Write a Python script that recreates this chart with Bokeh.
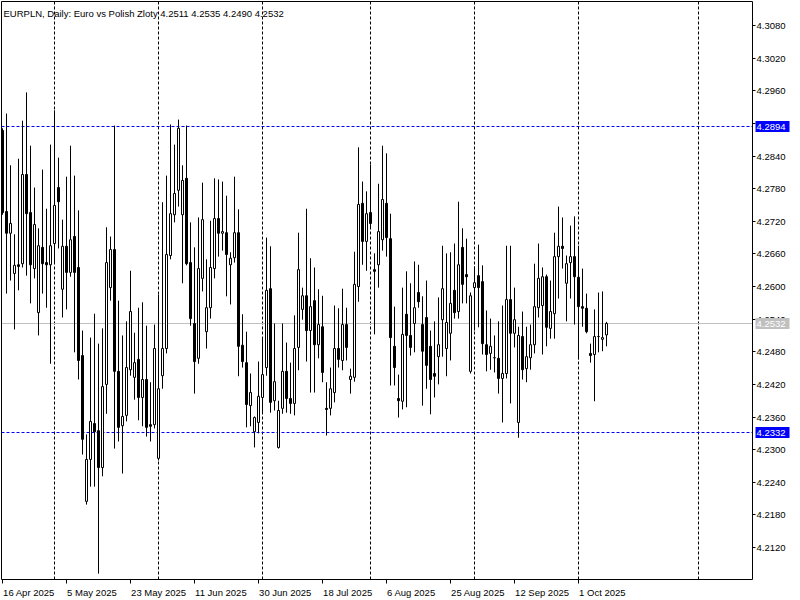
from bokeh.plotting import figure
from bokeh.models import ColumnDataSource, Range1d, GlobalInlineStyleSheet
from bokeh.core.properties import value
from bokeh.embed import file_html
from bokeh.resources import INLINE

# ---------------- data (EURPLN daily, bar 0 = 16 Apr 2025, 6 bars per week) ----------------
opens = [4.2887, 4.2738, 4.2698, 4.2624, 4.2640, 4.2642, 4.2806, 4.2736, 4.2633, 4.2552,
         4.2672, 4.2644, 4.2640, 4.2679, 4.2782, 4.2595, 4.2674, 4.2626, 4.2692, 4.2635,
         4.2473, 4.2205, 4.2282, 4.2348, 4.2335, 4.2267, 4.2420, 4.2598, 4.2668, 4.2444,
         4.2344, 4.2363, 4.2447, 4.2433, 4.2466, 4.2396, 4.2429, 4.2346, 4.2346, 4.2284,
         4.2436, 4.2486, 4.2657, 4.2732, 4.2777, 4.2732, 4.2799, 4.2644, 4.2532, 4.2468,
         4.2615, 4.2517, 4.2561, 4.2633, 4.2725, 4.2698, 4.2699, 4.2640, 4.2653, 4.2699,
         4.2492, 4.2460, 4.2381, 4.2333, 4.2350, 4.2396, 4.2451, 4.2596, 4.2390, 4.2304,
         4.2376, 4.2444, 4.2394, 4.2385, 4.2488, 4.2558, 4.2583, 4.2519, 4.2574, 4.2493,
         4.2526, 4.2376, 4.2376, 4.2405, 4.2486, 4.2464, 4.2530, 4.2429, 4.2433, 4.2600,
         4.2753, 4.2683, 4.2736, 4.2631, 4.2640, 4.2686, 4.2753, 4.2688, 4.2490, 4.2394,
         4.2389, 4.2549, 4.2510, 4.2532, 4.2589, 4.2530, 4.2543, 4.2490, 4.2440, 4.2471,
         4.2539, 4.2486, 4.2514, 4.2593, 4.2554, 4.2672, 4.2622, 4.2444, 4.2598, 4.2620,
         4.2609, 4.2493, 4.2477, 4.2469, 4.2468, 4.2431, 4.2440, 4.2576, 4.2514, 4.2350,
         4.2508, 4.2449, 4.2469, 4.2493, 4.2561, 4.2565, 4.2618, 4.2523, 4.2550, 4.2655,
         4.2674, 4.2606, 4.2644, 4.2655, 4.2617, 4.2563, 4.2560, 4.2477, 4.2475, 4.2508,
         4.2503, 4.2511]

highs = [4.2891, 4.2918, 4.2823, 4.2696, 4.2835, 4.2905, 4.2957, 4.2859, 4.2782, 4.2707,
         4.2815, 4.2743, 4.2861, 4.2924, 4.2837, 4.2723, 4.2802, 4.2859, 4.2804, 4.2740,
         4.2519, 4.2328, 4.2506, 4.2550, 4.2495, 4.2523, 4.2709, 4.2692, 4.2896, 4.2574,
         4.2510, 4.2536, 4.2629, 4.2515, 4.2561, 4.2571, 4.2528, 4.2424, 4.2530, 4.2585,
         4.2755, 4.2804, 4.2898, 4.2861, 4.2907, 4.2823, 4.2896, 4.2718, 4.2672, 4.2727,
         4.2791, 4.2650, 4.2721, 4.2799, 4.2797, 4.2793, 4.2767, 4.2663, 4.2802, 4.2742,
         4.2549, 4.2517, 4.2440, 4.2361, 4.2462, 4.2506, 4.2690, 4.2674, 4.2532, 4.2390,
         4.2532, 4.2497, 4.2460, 4.2547, 4.2699, 4.2598, 4.2743, 4.2652, 4.2635, 4.2595,
         4.2583, 4.2424, 4.2451, 4.2565, 4.2560, 4.2596, 4.2561, 4.2449, 4.2664, 4.2856,
         4.2793, 4.2775, 4.2824, 4.2661, 4.2789, 4.2859, 4.2845, 4.2734, 4.2563, 4.2438,
         4.2598, 4.2628, 4.2606, 4.2646, 4.2640, 4.2582, 4.2611, 4.2519, 4.2536, 4.2580,
         4.2675, 4.2661, 4.2663, 4.2679, 4.2756, 4.2707, 4.2688, 4.2589, 4.2637, 4.2677,
         4.2639, 4.2556, 4.2541, 4.2510, 4.2536, 4.2565, 4.2675, 4.2675, 4.2598, 4.2526,
         4.2554, 4.2526, 4.2530, 4.2642, 4.2679, 4.2635, 4.2622, 4.2611, 4.2699, 4.2747,
         4.2727, 4.2657, 4.2712, 4.2729, 4.2675, 4.2633, 4.2587, 4.2495, 4.2558, 4.2589,
         4.2591, 4.2535]

lows = [4.2732, 4.2587, 4.2611, 4.2521, 4.2593, 4.2635, 4.2620, 4.2569, 4.2615, 4.2510,
        4.2587, 4.2561, 4.2458, 4.2644, 4.2670, 4.2543, 4.2558, 4.2618, 4.2479, 4.2429,
        4.2291, 4.2199, 4.2232, 4.2232, 4.2072, 4.2251, 4.2366, 4.2574, 4.2302, 4.2315,
        4.2256, 4.2352, 4.2436, 4.2392, 4.2354, 4.2343, 4.2324, 4.2315, 4.2339, 4.2280,
        4.2412, 4.2477, 4.2650, 4.2718, 4.2747, 4.2606, 4.2639, 4.2528, 4.2403, 4.2458,
        4.2591, 4.2486, 4.2541, 4.2615, 4.2655, 4.2666, 4.2582, 4.2567, 4.2644, 4.2435,
        4.2451, 4.2341, 4.2343, 4.2304, 4.2330, 4.2366, 4.2436, 4.2368, 4.2372, 4.2302,
        4.2366, 4.2368, 4.2366, 4.2363, 4.2446, 4.2539, 4.2462, 4.2405, 4.2405, 4.2468,
        4.2424, 4.2326, 4.2363, 4.2387, 4.2451, 4.2446, 4.2464, 4.2403, 4.2425, 4.2572,
        4.2640, 4.2629, 4.2707, 4.2512, 4.2598, 4.2666, 4.2655, 4.2418, 4.2418, 4.2359,
        4.2374, 4.2378, 4.2473, 4.2479, 4.2561, 4.2381, 4.2412, 4.2365, 4.2396, 4.2420,
        4.2471, 4.2435, 4.2464, 4.2541, 4.2541, 4.2569, 4.2569, 4.2440, 4.2519, 4.2525,
        4.2475, 4.2444, 4.2447, 4.2442, 4.2403, 4.2350, 4.2431, 4.2385, 4.2488, 4.2322,
        4.2429, 4.2424, 4.2447, 4.2477, 4.2543, 4.2475, 4.2490, 4.2504, 4.2504, 4.2578,
        4.2633, 4.2536, 4.2578, 4.2530, 4.2466, 4.2526, 4.2514, 4.2460, 4.2389, 4.2479,
        4.2481, 4.2490]

closes = [4.2736, 4.2698, 4.2716, 4.2639, 4.2637, 4.2806, 4.2734, 4.2640, 4.2714, 4.2675,
          4.2642, 4.2640, 4.2675, 4.2749, 4.2756, 4.2674, 4.2626, 4.2686, 4.2626, 4.2464,
          4.2319, 4.2282, 4.2352, 4.2333, 4.2267, 4.2416, 4.2644, 4.2668, 4.2444, 4.2341,
          4.2361, 4.2451, 4.2554, 4.2460, 4.2396, 4.2429, 4.2341, 4.2343, 4.2486, 4.2412,
          4.2486, 4.2659, 4.2734, 4.2771, 4.2891, 4.2795, 4.2642, 4.2541, 4.2462, 4.2633,
          4.2723, 4.2561, 4.2635, 4.2725, 4.2698, 4.2701, 4.2659, 4.2652, 4.2699, 4.2490,
          4.2462, 4.2383, 4.2405, 4.2359, 4.2398, 4.2438, 4.2593, 4.2387, 4.2425, 4.2372,
          4.2444, 4.2394, 4.2385, 4.2486, 4.2631, 4.2583, 4.2519, 4.2563, 4.2493, 4.2530,
          4.2442, 4.2374, 4.2412, 4.2486, 4.2466, 4.2530, 4.2488, 4.2435, 4.2604, 4.2751,
          4.2683, 4.2734, 4.2716, 4.2628, 4.2701, 4.2760, 4.2690, 4.2506, 4.2451, 4.2390,
          4.2512, 4.2510, 4.2488, 4.2561, 4.2572, 4.2481, 4.2455, 4.2429, 4.2435, 4.2493,
          4.2596, 4.2534, 4.2569, 4.2552, 4.2640, 4.2604, 4.2618, 4.2583, 4.2607, 4.2598,
          4.2495, 4.2475, 4.2490, 4.2469, 4.2431, 4.2440, 4.2576, 4.2514, 4.2539, 4.2510,
          4.2447, 4.2471, 4.2493, 4.2563, 4.2615, 4.2618, 4.2525, 4.2554, 4.2655, 4.2674,
          4.2670, 4.2642, 4.2655, 4.2618, 4.2563, 4.2560, 4.2517, 4.2473, 4.2508, 4.2508,
          4.2506, 4.2532]

date_tick_index = [0, 16, 32, 48, 64, 80, 96, 112, 128, 144]
date_tick_labels = ["16 Apr 2025", "5 May 2025", "23 May 2025", "11 Jun 2025", "30 Jun 2025",
                    "18 Jul 2025", "6 Aug 2025", "25 Aug 2025", "12 Sep 2025", "1 Oct 2025"]
month_start_index = [13, 39, 65, 92, 118, 144, 174]
price_ticks = [4.2120, 4.2180, 4.2240, 4.2300, 4.2360, 4.2420, 4.2480, 4.2540, 4.2600,
               4.2660, 4.2720, 4.2780, 4.2840, 4.2900, 4.2960, 4.3020, 4.3080]
level_high = 4.2894
level_low = 4.2332
bid_price = 4.2532
title_text = "EURPLN, Daily:  Euro vs Polish Zloty  4.2511 4.2535 4.2490 4.2532"

# ---------------- geometry (page pixels -> data units) ----------------
FONT = value("Liberation Sans")
FS = value("9.5px")
W, H = 800, 600
CL, CT, CR, CB = 1, 1, 752, 579          # chart box edges in pixels
BAR_PX = 4                               # pixels per bar
X_OFF = -0.5                             # bar index at pixel 0
Y_TOP = 4.3126                           # price at pixel row 0
PRICE_PER_PX = 0.0001839


def X(px):
    return X_OFF + px / BAR_PX


def Y(py):
    return Y_TOP - py * PRICE_PER_PX


def PY(price):
    return (Y_TOP - price) / PRICE_PER_PX


def snap(price):
    return Y(round(PY(price)))


n = len(opens)
xs = list(range(n))
bots = [min(o, c) for o, c in zip(opens, closes)]
tops = [max(max(o, c), min(o, c) + 0.00001) for o, c in zip(opens, closes)]
fills = ["white" if c > o else "black" for o, c in zip(opens, closes)]
src = ColumnDataSource(dict(x=xs, h=highs, l=lows, top=tops, bottom=bots, fill=fills))

p = figure(width=W, height=H, x_range=Range1d(X(0), X(W)), y_range=Range1d(Y(H), Y(0)),
           output_backend="svg", toolbar_location=None,
           x_axis_location=None, y_axis_location=None, min_border=0,
           background_fill_color="white", border_fill_color="white",
           outline_line_color=None)
p.grid.visible = False
p.stylesheets = [GlobalInlineStyleSheet(css="html, body { margin: 0; padding: 0; }")]

# month separators
p.segment(x0=month_start_index, y0=[Y(CB)] * len(month_start_index),
          x1=month_start_index, y1=[Y(CT)] * len(month_start_index),
          line_color="black", line_dash="3 2", line_width=1)

# price level lines
lv = [snap(level_high), snap(level_low)]
p.segment(x0=[X(CL)] * 2, y0=lv, x1=[X(CR)] * 2, y1=lv,
          line_color="#0000ff", line_dash="3 2", line_width=1)
p.segment(x0=[X(CL)], y0=[snap(bid_price)], x1=[X(CR)], y1=[snap(bid_price)],
          line_color="#c0c0c0", line_width=1)

# candles
p.segment(x0="x", y0="l", x1="x", y1="h", source=src, line_color="black", line_width=1)
p.vbar(x="x", width=0.5, top="top", bottom="bottom", fill_color="fill",
       line_color="black", line_width=1, source=src)

# chart frame (right and bottom edges are the axes)
p.quad(left=[X(CL)], right=[X(CR)], top=[Y(CT)], bottom=[Y(CB)],
       fill_color=None, line_color="black", line_width=1)

# right price axis
tk = [snap(t) for t in price_ticks]
p.segment(x0=[X(CR)] * len(tk), y0=tk, x1=[X(CR + 3)] * len(tk), y1=tk,
          line_color="black", line_width=1)
p.text(x=[X(CR + 4)] * len(price_ticks), y=tk, text=["%.4f" % t for t in price_ticks],
       text_font=FONT, text_font_size=FS, text_color="black",
       text_align="left", text_baseline="middle")

# bottom date axis
p.segment(x0=date_tick_index, y0=[Y(CB)] * len(date_tick_index),
          x1=date_tick_index, y1=[Y(CB + 4)] * len(date_tick_index),
          line_color="black", line_width=1)
p.text(x=[i + 0.15 for i in date_tick_index], y=[Y(CB + 12.5)] * len(date_tick_index),
       text=date_tick_labels, text_font=FONT, text_font_size=FS, text_color="black",
       text_align="left", text_baseline="alphabetic")

# price tags on the axis
tags = [level_high, level_low, bid_price]
tag_bg = ["#0000ff", "#0000ff", "#c0c0c0"]
tc = [round(PY(t)) for t in tags]
p.quad(left=[X(CR + 3)] * 3, right=[X(CR + 37)] * 3,
       top=[Y(c - 5.5) for c in tc], bottom=[Y(c + 5.5) for c in tc],
       fill_color=tag_bg, line_color=None)
p.text(x=[X(CR + 4)] * 3, y=[Y(c) for c in tc], text=["%.4f" % t for t in tags],
       text_font=FONT, text_font_size=FS, text_color="white",
       text_align="left", text_baseline="middle")

# chart caption
p.text(x=[X(3)], y=[Y(12.5)], text=[title_text], text_font=FONT, text_font_size=FS,
       text_color="black", text_align="left", text_baseline="alphabetic")

open("out.html", "w").write(file_html(p, INLINE))
